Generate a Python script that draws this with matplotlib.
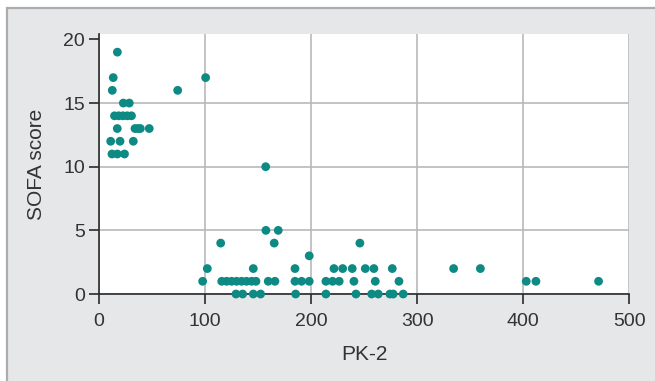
import numpy as np
import matplotlib.pyplot as plt
from matplotlib.patches import Rectangle

# =============================
# DATA
# =============================
pk2 = [17.7, 13.8, 12.9, 74.5, 100.8,
       23.3, 28.9,
       15, 19, 23, 27, 31,
       17.6, 34.3, 37, 39.3, 47.7,
       11.4, 20.2, 32.7,
       12.6, 17.7, 24.4,
       98, 102.4, 115, 157.4,
       116, 120.6, 125.3, 130, 134.7, 139.4, 144.2, 148.2,
       129.4, 135.7, 145.7, 152.6, 145.7,
       157.6, 169.2, 165.4, 159.8, 166.1,
       185, 185, 191.2, 198.4, 185.6, 198.4,
       214.1, 214.1, 220.4, 226.6, 221.7, 229.9, 238.9, 240.5, 242.4,
       246.1, 251.2, 259.3, 260.6, 257.2, 263.4,
       276.6, 274.4, 277.5, 282.9, 286.9,
       334.4, 359.6, 402.8, 411.9, 470.9]
sofa = [19, 17, 16, 16, 17,
        15, 15,
        14, 14, 14, 14, 14,
        13, 13, 13, 13, 13,
        12, 12, 12,
        11, 11, 11,
        1, 2, 4, 10,
        1, 1, 1, 1, 1, 1, 1, 1,
        0, 0, 0, 0, 2,
        5, 5, 4, 1, 1,
        2, 1, 1, 1, 0, 3,
        0, 1, 1, 1, 2, 2, 2, 1, 0,
        4, 2, 2, 1, 0, 0,
        2, 0, 0, 1, 0,
        2, 2, 1, 1, 1]

x_ticks = [0, 100, 200, 300, 400, 500]
y_ticks = [0, 5, 10, 15, 20]

# =============================
# PLOT
# =============================
plt.rcParams['font.family'] = ['Liberation Sans', 'DejaVu Sans']

fig = plt.figure(figsize=(6.55, 3.81), dpi=100)
fig.patch.set_facecolor('white')
fig.patches.append(Rectangle((7 / 655, -0.05), 1.0, 1 - 8 / 381 + 0.05,
                             transform=fig.transFigure, facecolor='#e6e7e9',
                             edgecolor='#acacae', linewidth=1.6, zorder=-10))

ax = fig.add_axes([0.1505, 0.2283, 0.8105, 0.6816])
ax.set_zorder(2)
ax.set_facecolor('white')
ax.scatter(pk2, sofa, s=40, color='#0e8a84', edgecolors='none',
           zorder=3, clip_on=False)

ax.set_xlim(0, 500)
ax.set_ylim(0, 20.4)
ax.set_xticks(x_ticks)
ax.set_yticks(y_ticks)

ax.grid(True, color='#b9b9bb', linewidth=1.2)
ax.set_axisbelow(True)
# top of the plot has no grid line in the original
ax.yaxis.get_gridlines()[-1].set_visible(False)
for side in ['top', 'right']:
    ax.spines[side].set_visible(False)
for side in ['left', 'bottom']:
    ax.spines[side].set_color('#2a2a2a')
    ax.spines[side].set_linewidth(1.2)

ax.tick_params(colors='#2a2a2a', labelcolor='#333333', labelsize=14,
               length=7, width=1.2)
ax.tick_params(axis='x', pad=6.5)
ax.tick_params(axis='y', pad=2.7)

ax.set_xlabel("PK-2", fontsize=15, color='#333333')
ax.set_ylabel("SOFA score", fontsize=15, color='#333333')
ax.xaxis.set_label_coords(0.5, -0.196)
ax.yaxis.set_label_coords(-0.099, 0.5)

plt.savefig("out.png", dpi=100)
